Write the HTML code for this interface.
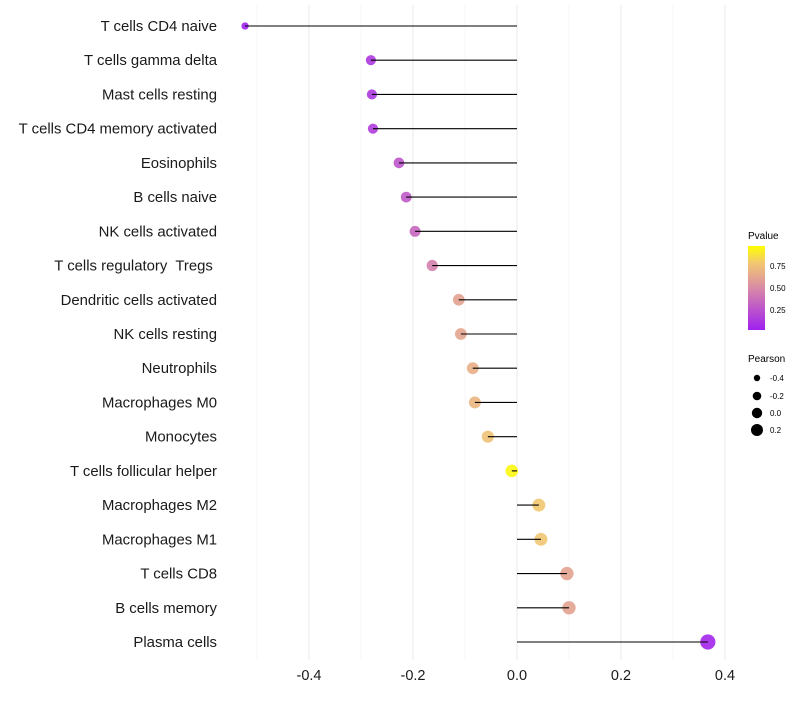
<!DOCTYPE html>
<html><head><meta charset="utf-8"><style>
body{margin:0;background:#fff;font-family:"Liberation Sans",sans-serif}
svg text{font-family:"Liberation Sans",sans-serif;white-space:pre}
</style></head><body>
<svg id="chart" width="800" height="700" xmlns="http://www.w3.org/2000/svg">
<g id="grid"></g>
<g id="marks"></g>
<g id="ylab"></g>
<g id="xlab"></g>
<g>
<defs><linearGradient id="pg" x1="0" y1="1" x2="0" y2="0">
<stop offset="0" stop-color="#a020f0"/><stop offset="0.5" stop-color="#d88aa6"/><stop offset="0.8" stop-color="#f2c870"/><stop offset="1" stop-color="#ffff00"/></linearGradient></defs>
<text x="748" y="239" font-size="10">Pvalue</text>
<rect x="748" y="246" width="17" height="84" fill="url(#pg)"/>
<text x="770" y="269" font-size="8">0.75</text>
<text x="770" y="291" font-size="8">0.50</text>
<text x="770" y="313" font-size="8">0.25</text>
</g>
<g>
<text x="748" y="362" font-size="10">Pearson</text>
<circle cx="757" cy="378" r="3.2" fill="#000"/>
<text x="770" y="381" font-size="8">-0.4</text>
<circle cx="757" cy="396" r="4.3" fill="#000"/>
<text x="770" y="399" font-size="8">-0.2</text>
<circle cx="757" cy="413" r="5.2" fill="#000"/>
<text x="770" y="416" font-size="8">0.0</text>
<circle cx="757" cy="430" r="6" fill="#000"/>
<text x="770" y="433" font-size="8">0.2</text>
</g>
</svg>
<script>
const categories=["T cells CD4 naive","T cells gamma delta","Mast cells resting","T cells CD4 memory activated","Eosinophils","B cells naive","NK cells activated","T cells regulatory  Tregs ","Dendritic cells activated","NK cells resting","Neutrophils","Macrophages M0","Monocytes","T cells follicular helper","Macrophages M2","Macrophages M1","T cells CD8","B cells memory","Plasma cells"];
const pearson=[-0.523,-0.281,-0.279,-0.277,-0.227,-0.213,-0.196,-0.163,-0.112,-0.108,-0.085,-0.081,-0.056,-0.010,0.042,0.046,0.096,0.100,0.367];
const pvalues=[0.01,0.12,0.12,0.13,0.25,0.28,0.33,0.45,0.62,0.63,0.68,0.71,0.77,0.97,0.80,0.79,0.62,0.62,0.03];
const xTicks=[-0.4,-0.2,0,0.2,0.4];
const xMinor=[-0.5,-0.3,-0.1,0.1,0.3];
const NS="http://www.w3.org/2000/svg";
const xs=v=>517+520*v;
const ys=i=>26+i*(616/18);
const rs=v=>{const r2=20+44.6*(v+0.28);return r2<5?1.8:Math.sqrt(r2)+0.6;};
const stops=[[0,[160,32,240]],[0.5,[216,138,166]],[0.8,[242,200,112]],[1,[255,255,0]]];
function col(p){for(let k=1;k<stops.length;k++){if(p<=stops[k][0]){const a=stops[k-1],b=stops[k],t=(p-a[0])/(b[0]-a[0]);return`rgb(${a[1].map((c,j)=>Math.round(c+(b[1][j]-c)*t)).join(',')})`;}}return'rgb(255,255,0)';}
function mk(t,at,parent){const e=document.createElementNS(NS,t);for(const k in at)e.setAttribute(k,at[k]);parent.appendChild(e);return e;}
const grid=document.getElementById('grid'),marks=document.getElementById('marks'),ylab=document.getElementById('ylab'),xlab=document.getElementById('xlab');
xMinor.forEach(v=>{const l=mk('line',{x1:xs(v),x2:xs(v),y1:5,y2:660,stroke:'#f2f2f2','stroke-width':0.6},grid);

});
xTicks.forEach(v=>{const l=mk('line',{x1:xs(v),x2:xs(v),y1:5,y2:660,stroke:'#ebebeb','stroke-width':1.1},grid);


const t=mk('text',{x:xs(v),y:680,'font-size':14.5,'text-anchor':'middle',fill:'#1a1a1a'},xlab);t.textContent=v===0?'0.0':v.toFixed(1);

});
categories.forEach((c,i)=>{const y=ys(i);
const t=mk('text',{x:217,y:y+5,'font-size':14.9,'text-anchor':'end',fill:'#1a1a1a'},ylab);t.textContent=c;


const p=mk('circle',{cx:xs(pearson[i]),cy:y,r:rs(pearson[i]),fill:col(pvalues[i]),'fill-opacity':0.9},marks);


const s=mk('line',{x1:xs(0),x2:xs(pearson[i]),y1:y,y2:y,stroke:'#000','stroke-width':1.1},marks);

});
</script>
</body></html>
